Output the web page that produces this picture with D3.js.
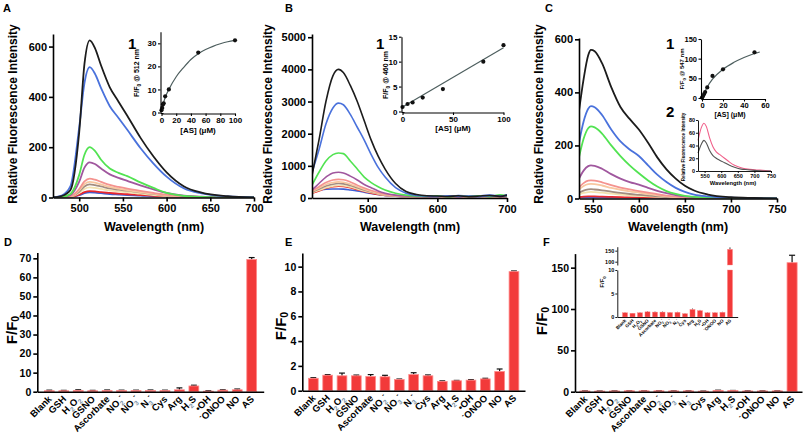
<!DOCTYPE html>
<html><head><meta charset="utf-8">
<script src="https://cdn.jsdelivr.net/npm/d3@7"></script>
<style>body{margin:0;background:#fff}svg{display:block}</style>
</head><body><svg id="c" width="803" height="433"></svg>
<script>
// ---------------- DATA ----------------
const seriesColors = ["#1c1c1c","#4a72dc","#52e352","#a0579e","#f4938f","#f8c7a0","#a38d80","#f3e2b0","#e8282d","#3d5fd6"];

// Panel A spectra (wavelength nm, intensity)
const A_wl     = [470,480,490,500,506,512,518,525,535,545,555,570,585,600,620,640,670,700];
const A_black  = [0,6,30,260,531,625,594,525,438,381,325,238,163,100,44,19,5,0];
const A_blue   = [0,8,45,280,455,518,492,435,363,316,269,197,135,83,36,16,4,0];
const A_green  = [0,2,14,90,170,200,185,150,115,98,85,60,38,18,6,2,0,0];
const A_purple = [0,1,10,63,119,140,133,115,92,78,66,48,32,18,7,3,1,0];
const A_salmon = [0,1,5,34,64,75,71,62,50,42,35,26,18,11,5,2,0,0];
const A_peach  = [0,1,4,28,53,62,59,52,42,35,29,21,15,9,4,2,0,0];
const A_gray   = [0,0,4,23,44,52,49,44,36,31,27,20,14,8,4,2,0,0];
const A_pale   = [0,0,3,18,34,40,38,34,28,24,21,15,10,6,3,1,0,0];
const A_red    = [0,0,2,11,21,25,24,21,18,15,13,10,7,4,2,1,0,0];
const A_blue2  = [0,0,1,9,17,20,19,17,14,12,10,8,5,3,1,1,0,0];

// Panel B spectra
const B_wl     = [420,430,440,450,458,465,475,485,495,505,515,525,540,555,570,585,600,615,630,645,660,675,690,700];
const B_black  = [700,1800,3000,3800,4000,3900,3500,3000,2400,1800,1300,900,450,200,110,70,60,45,70,40,60,80,50,90];
const B_blue   = [800,1500,2300,2800,2950,2900,2600,2200,1800,1350,950,650,320,150,80,60,40,70,50,60,40,70,60,80];
const B_green  = [400,800,1150,1350,1400,1380,1150,900,650,480,350,250,150,90,60,50,70,40,60,50,70,40,100,60];
const B_purple = [250,450,650,780,800,780,680,560,420,320,220,150,90,60,50,40,60,50,40,60,50,70,40,50];
const B_salmon = [220,350,480,560,580,570,500,400,310,230,170,120,80,55,45,50,40,55,45,40,55,45,50,40];
const B_peach  = [200,310,420,480,500,490,430,350,270,200,150,110,70,50,40,45,50,40,45,50,40,45,50,45];
const B_gray   = [180,280,370,430,450,440,390,320,250,190,140,100,65,45,40,40,45,40,45,40,45,40,45,40];
const B_pale   = [160,240,320,370,390,380,340,280,220,170,125,90,60,42,38,40,38,40,38,40,38,40,38,40];
const B_red    = [150,220,300,350,370,360,320,260,200,150,110,80,55,40,35,40,35,40,35,40,35,40,35,40];
const B_blue2  = [230,250,270,280,280,275,250,220,180,140,110,80,55,45,50,60,70,40,80,50,60,90,60,100];

// Panel C spectra
const C_wl     = [535,540,545,548,552,560,570,580,590,600,610,620,630,640,650,660,675,700,725,750];
const C_black  = [330,450,540,560,555,510,420,345,300,260,210,155,110,75,48,30,15,5,2,0];
const C_blue   = [210,290,338,348,344,315,260,215,185,160,125,90,62,40,25,15,8,3,1,0];
const C_green  = [155,225,265,272,268,245,200,160,125,95,68,45,28,17,10,6,3,1,0,0];
const C_purple = [75,105,122,125,123,112,92,75,62,52,40,29,20,13,8,5,2,1,0,0];
const C_salmon = [42,58,67,68,67,61,50,41,34,28,22,16,11,7,4,3,1,0,0,0];
const C_peach  = [34,47,54,55,54,49,40,33,27,22,17,12,8,5,3,2,1,0,0,0];
const C_gray   = [22,30,34,35,34,31,26,21,17,14,11,8,5,3,2,1,0,0,0,0];
const C_pale   = [15,21,24,25,24,22,18,15,12,10,8,6,4,2,1,1,0,0,0,0];
const C_red    = [5,7,8,8,8,7,6,5,4,3,2,2,1,1,0,0,0,0,0,0];
const C_blue2  = [2,3,3,3,3,3,2,2,2,1,1,1,0,0,0,0,0,0,0,0];

// Inset 1 data (concentration uM, F/F0) and fitted curves
const A_ins_conc = [0,1,2,3,5,10,50,100];
const A_ins_ratio = [1,2,3.5,4,7,10,26,31.3];
const A_fit_conc = [0,5,10,20,30,40,50,60,70,80,90,100];
const A_fit_ratio = [1,6.5,10,15.5,19.5,23,25.5,27.3,28.7,29.8,30.7,31.3];

const B_ins_conc = [0,5,10,20,40,80,100];
const B_ins_ratio = [0.9,1.5,1.8,2.8,4.5,10.0,13.3];
const B_fit_conc = [0,100];
const B_fit_ratio = [0.9,12.8];

const C_ins_conc = [0,1,2,3,5,10,20,50];
const C_ins_ratio = [1,5,10,15,27,56,73,116];
const C_fit_conc = [0,5,10,20,30,40,50,55];
const C_fit_ratio = [0,28,48,73,90,103,113,117];

// Inset C2 spectra
const C2_wl   = [530,540,548,555,565,575,585,595,610,625,640,660,680,700,725,750];
const C2_pink = [48,68,75,70,52,38,30,26,20,14,9,5,3,2,1,0];
const C2_gray = [28,42,48,44,32,24,20,17,13,9,6,3,2,1,0,0];

// Selectivity bars
const analytes = ["Blank","GSH","H_2O_2","GSNO","Ascorbate","NO_2^-","NO_3^-","N_3^-","Cys","Arg","H_2S","•OH","^-ONOO","NO","AS"];
const D_values = [0.5,0.5,0.7,0.5,0.6,0.6,0.6,0.6,0.6,1.0,3.0,0.3,0.8,1.0,69.4];
const D_err    = [0.3,0.2,0.3,0.2,0.3,0.2,0.2,0.3,0.2,1.0,0.4,0.2,0.2,0.4,1.0];
const E_values = [1.0,1.25,1.2,1.2,1.15,1.12,0.9,1.3,1.2,0.75,0.8,0.85,0.95,1.55,9.6];
const E_err    = [0.05,0.05,0.22,0.06,0.15,0.12,0.04,0.15,0.07,0.04,0.03,0.04,0.05,0.2,0.05];
const F_values = [0.9,0.8,0.9,1.1,1.05,1.05,0.95,1.0,0.7,1.6,1.35,0.9,0.9,1.0,156];
const F_err    = [0.1,0.05,0.1,0.1,0.1,0.1,0.1,0.1,0.1,0.2,0.15,0.1,0.1,0.1,9];

// ---------------- DRAWING ----------------
const FONT = "'Liberation Sans', Arial, Helvetica, sans-serif";
const svg = d3.select('#c');
svg.append('rect').attr('width',803).attr('height',433).attr('fill','#fff');

function txt(x,y,s,fs,opt={}) {
  const t = svg.append('text').attr('x',x).attr('y',y)
    .attr('font-family',FONT).attr('font-weight','bold').attr('font-size',fs)
    .attr('text-anchor',opt.anchor||'middle').attr('fill',opt.fill||'#000');
  if (opt.rotate) t.attr('transform',`rotate(${opt.rotate},${x},${y})`);
  rich(t,s,fs,opt.subColor,opt.subShift);
  return t;
}
function rich(t,s,fs,subColor,subShift) {
  const parts=[];
  for (let i=0;i<s.length;i++){
    const ch=s[i];
    if ((ch==='_'||ch==='^') && i+1<s.length){ parts.push({t:s[i+1],type:ch==='_'?'sub':'sup'}); i++; }
    else { if(parts.length && parts[parts.length-1].type==='n') parts[parts.length-1].t+=ch; else parts.push({t:ch,type:'n'}); }
  }
  let shift=0;
  const sub = subShift==null?0.3:subShift;
  parts.forEach(p=>{
    const target = p.type==='sub'? fs*sub : p.type==='sup'? -fs*0.45 : 0;
    const ts=t.append('tspan').attr('dy',target-shift).text(p.t);
    if(p.type!=='n'){ ts.attr('font-size',fs*0.7); if(p.type==='sub'&&subColor) ts.attr('fill',subColor); }
    shift=target;
  });
}
function styleAxis(g,fs,sw){
  g.selectAll('path.domain').attr('stroke','#000').attr('stroke-width',sw);
  g.selectAll('.tick line').attr('stroke','#000').attr('stroke-width',sw);
  g.selectAll('.tick text').attr('font-family',FONT).attr('font-weight','bold').attr('font-size',fs).attr('fill','#000');
}

let clipN=0;
function spectrumPanel(o){
  const x=d3.scaleLinear().domain(o.xd).range(o.xr);
  const y=d3.scaleLinear().domain(o.yd).range(o.yr);
  const id='clip'+(clipN++);
  svg.append('clipPath').attr('id',id).append('rect')
    .attr('x',o.xr[0]).attr('y',o.yr[1]-2).attr('width',o.xr[1]-o.xr[0]).attr('height',o.yr[0]-o.yr[1]+2);
  const g=svg.append('g').attr('clip-path',`url(#${id})`);
  const line=d3.line().x((d,i)=>x(o.wl[i])).y(d=>y(d)).curve(d3.curveMonotoneX);
  for(let k=o.series.length-1;k>=0;k--){
    g.append('path').attr('d',line(o.series[k])).attr('fill','none')
      .attr('stroke',o.colors[k]).attr('stroke-width',o.lw||1.8).attr('stroke-linejoin','round');
  }
  const ga=svg.append('g').attr('transform',`translate(${o.xr[0]},0)`)
    .call(d3.axisLeft(y).tickValues(o.yt).tickSize(o.ts||4).tickSizeOuter(0).tickPadding(2).tickFormat(d3.format('d')));
  styleAxis(ga,o.fs||11,o.sw||1.6);
  const gb=svg.append('g').attr('transform',`translate(0,${o.yr[0]})`)
    .call(d3.axisBottom(x).tickValues(o.xt).tickSize(o.ts||4).tickSizeOuter(0).tickPadding(o.tp||3).tickFormat(d3.format('d')));
  styleAxis(gb,o.fs||11,o.sw||1.6);
  return {x,y};
}

function insetScatter(o){
  const x=d3.scaleLinear().domain(o.xd).range(o.xr);
  const y=d3.scaleLinear().domain(o.yd).range(o.yr);
  const line=d3.line().x((d,i)=>x(o.fx[i])).y(d=>y(d)).curve(d3.curveMonotoneX);
  svg.append('path').attr('d',line(o.fy)).attr('fill','none').attr('stroke','#4d5e5e').attr('stroke-width',1.2);
  o.px.forEach((c,i)=>svg.append('circle').attr('cx',x(c)).attr('cy',y(o.py[i])).attr('r',2.1).attr('fill','#111'));
  const ga=svg.append('g').attr('transform',`translate(${o.xr[0]-1},0)`)
    .call(d3.axisLeft(y).tickValues(o.yt).tickSize(2.5).tickSizeOuter(0).tickPadding(1.5));
  styleAxis(ga,o.fs,1.1);
  const gb=svg.append('g').attr('transform',`translate(0,${o.yr[0]+1})`)
    .call(d3.axisBottom(x).tickValues(o.xt).tickSize(2.5).tickSizeOuter(0).tickPadding(1.5));
  styleAxis(gb,o.fs,1.1);
  svg.append('line').attr('x1',o.xr[0]-1).attr('x2',o.xr[0]+2).attr('y1',o.yr[0]+1).attr('y2',o.yr[0]+1).attr('stroke','#000').attr('stroke-width',1.1);
}

// ---- Panel A ----
spectrumPanel({xd:[470,700],xr:[53,254],yd:[0,650],yr:[197.5,34],wl:A_wl,
  series:[A_black,A_blue,A_green,A_purple,A_salmon,A_peach,A_gray,A_pale,A_red,A_blue2],colors:seriesColors,
  yt:[0,200,400,600],xt:[500,550,600,650,700]});
// ---- Panel B ----
spectrumPanel({xd:[420,700],xr:[312,507],yd:[0,5100],yr:[198,34],wl:B_wl,
  series:[B_black,B_blue,B_green,B_purple,B_salmon,B_peach,B_gray,B_pale,B_red,B_blue2],colors:seriesColors,
  yt:[0,1000,2000,3000,4000,5000],xt:[500,600,700],lw:1.6});
// ---- Panel C ----
spectrumPanel({xd:[535,750],xr:[579,777],yd:[0,605],yr:[198.5,38],wl:C_wl,
  series:[C_black,C_blue,C_green,C_purple,C_salmon,C_peach,C_gray,C_pale,C_red,C_blue2],colors:seriesColors,
  yt:[0,200,400,600],xt:[550,600,650,700,750]});

// titles for spectra
[13,268,539].forEach(x=>txt(x+4,114,'Relative Fluorescence Intensity',12,{rotate:-90}));
[154,410,678].forEach(cx=>txt(cx,231,'Wavelength (nm)',12.5));
txt(3,12,'A',11,{anchor:'start'});
txt(285,12,'B',11,{anchor:'start'});
txt(545,12,'C',11,{anchor:'start'});

// ---- Insets ----
insetScatter({xd:[0,100],xr:[161.5,235],yd:[0,35],yr:[112.5,31.8],fx:A_fit_conc,fy:A_fit_ratio,px:A_ins_conc,py:A_ins_ratio,
  yt:[0,10,20,30],xt:[0,20,40,60,80,100],fs:8});
txt(128,49,'1',15,{anchor:'start'});
txt(139,73,'F/F_0 @ 512 nm',7,{rotate:-90});
txt(198,133,'[AS] (μM)',8);

insetScatter({xd:[0,100],xr:[402.5,503.5],yd:[0,15],yr:[111.5,36.7],fx:B_fit_conc,fy:B_fit_ratio,px:B_ins_conc,py:B_ins_ratio,
  yt:[0,5,10,15],xt:[0,50,100],fs:8});
txt(376,49,'1',15,{anchor:'start'});
txt(388,75,'F/F_0 @ 460 nm',7,{rotate:-90});
txt(453,131,'[AS] (μM)',8);

insetScatter({xd:[0,60],xr:[702,765],yd:[0,150],yr:[98,39],fx:C_fit_conc,fy:C_fit_ratio,px:C_ins_conc,py:C_ins_ratio,
  yt:[0,50,100,150],xt:[0,20,40,60],fs:7.5});
txt(666,49,'1',15,{anchor:'start'});
txt(684,69,'F/F_0 @ 547 nm',6,{rotate:-90});
txt(730,117,'[AS] (μM)',7);

// inset C2
(function(){
  const x=d3.scaleLinear().domain([530,750]).range([698,771]);
  const y=d3.scaleLinear().domain([0,80]).range([171,120]);
  const line=d3.line().x((d,i)=>x(C2_wl[i])).y(d=>y(d)).curve(d3.curveMonotoneX);
  svg.append('path').attr('d',line(C2_pink)).attr('fill','none').attr('stroke','#f0608a').attr('stroke-width',1.1);
  svg.append('path').attr('d',line(C2_gray)).attr('fill','none').attr('stroke','#555').attr('stroke-width',1.1);
  const ga=svg.append('g').attr('transform','translate(698,0)').call(d3.axisLeft(y).tickValues([0,20,40,60,80]).tickSize(2).tickSizeOuter(0).tickPadding(1));
  styleAxis(ga,5.5,0.9);
  const gb=svg.append('g').attr('transform','translate(0,171)').call(d3.axisBottom(x).tickValues([550,600,650,700,750]).tickSize(2).tickSizeOuter(0).tickPadding(1));
  styleAxis(gb,5.5,0.9);
  txt(666,117,'2',15,{anchor:'start'});
  txt(685,147,'Relative Fluorescence Intensity',4.6,{rotate:-90});
  txt(733,185,'Wavelength (nm)',5.8);
})();

// ---- Bar panels ----
function barPanel(o){
  const x=d3.scalePoint().domain(d3.range(analytes.length)).range(o.xr).padding(o.pad);
  const y=d3.scaleLinear().domain(o.yd).range(o.yr);
  const bw=x.step()*0.68;
  o.values.forEach((v,i)=>{
    const e=o.err[i];
    svg.append('line').attr('x1',x(i)).attr('x2',x(i)).attr('y1',y(v)).attr('y2',y(v+e)).attr('stroke','#111').attr('stroke-width',1.2);
    svg.append('line').attr('x1',x(i)-bw*0.3).attr('x2',x(i)+bw*0.3).attr('y1',y(v+e)).attr('y2',y(v+e)).attr('stroke','#111').attr('stroke-width',1.2);
    svg.append('rect').attr('x',x(i)-bw/2).attr('y',y(v)).attr('width',bw).attr('height',y(0)-y(v))
      .attr('fill','#f23a3a').attr('stroke','#ff8a8a').attr('stroke-width',0.8);
  });
  const ga=svg.append('g').attr('transform',`translate(${o.xr[0]},0)`)
    .call(d3.axisLeft(y).tickValues(o.yt).tickSize(4).tickSizeOuter(0).tickPadding(2));
  styleAxis(ga,10.5,1.6);
  const gb=svg.append('g').attr('transform',`translate(0,${o.yr[0]})`)
    .call(d3.axisBottom(x).tickSize(0).tickSizeOuter(0).tickFormat(''));
  styleAxis(gb,10,1.6);
  analytes.forEach((s,i)=>{
    const px=x(i)+3, py=o.yr[0]+8;
    txt(px,py,s,9.5,{anchor:'end',rotate:-45,subColor:'#7d95a8'});
  });
  return {x,y};
}
barPanel({xr:[37.3,263.7],pad:0.83,yd:[0,73],yr:[391.7,252.6],values:D_values,err:D_err,yt:[0,10,20,30,40,50,60,70]});
barPanel({xr:[302.3,525],pad:0.77,yd:[0,11.1],yr:[390.7,253],values:E_values,err:E_err,yt:[0,2,4,6,8,10]});
barPanel({xr:[575,802],pad:0.67,yd:[0,167],yr:[391.7,253.6],values:F_values,err:F_err,yt:[0,50,100,150]});
txt(4,246,'D',11,{anchor:'start'});
txt(285,246,'E',11,{anchor:'start'});
txt(543,246,'F',11,{anchor:'start'});
txt(17,330,'F/F_0',15,{rotate:-90,subShift:0.15});
txt(286,326,'F/F_0',15,{rotate:-90,subShift:0.15});
txt(547,321,'F/F_0',15,{rotate:-90,subShift:0.15});

// ---- F inset with broken axis ----
(function(){
  const x=d3.scalePoint().domain(d3.range(analytes.length)).range([617.3,737.7]).padding(1.03);
  const yL=d3.scaleLinear().domain([0,10]).range([317,270]);
  const yU=d3.scaleLinear().domain([85,168]).range([265,246.7]);
  const bw=x.step()*0.68;
  F_values.forEach((v,i)=>{
    const e=F_err[i];
    if(v<=10){
      svg.append('line').attr('x1',x(i)).attr('x2',x(i)).attr('y1',yL(v)).attr('y2',yL(v+e)).attr('stroke','#111').attr('stroke-width',0.8);
      svg.append('rect').attr('x',x(i)-bw/2).attr('y',yL(v)).attr('width',bw).attr('height',yL(0)-yL(v)).attr('fill','#f23a3a').attr('stroke','#ff8a8a').attr('stroke-width',0.4);
    } else {
      svg.append('rect').attr('x',x(i)-bw/2).attr('y',yL(10)).attr('width',bw).attr('height',yL(0)-yL(10)).attr('fill','#f23a3a').attr('stroke','#ff8a8a').attr('stroke-width',0.4);
      svg.append('line').attr('x1',x(i)).attr('x2',x(i)).attr('y1',yU(v)).attr('y2',yU(v+e)).attr('stroke','#111').attr('stroke-width',0.8);
      svg.append('rect').attr('x',x(i)-bw/2).attr('y',yU(v)).attr('width',bw).attr('height',yU(85)-yU(v)).attr('fill','#f23a3a').attr('stroke','#ff8a8a').attr('stroke-width',0.4);
    }
  });
  const g1=svg.append('g').attr('transform','translate(617.3,0)').call(d3.axisLeft(yL).tickValues([0,5,10]).tickSize(2).tickSizeOuter(0).tickPadding(1));
  styleAxis(g1,5.5,0.9);
  const g2=svg.append('g').attr('transform','translate(617.3,0)').call(d3.axisLeft(yU).tickValues([100,150]).tickSize(2).tickSizeOuter(0).tickPadding(1));
  styleAxis(g2,5.5,0.9);
  const gb=svg.append('g').attr('transform','translate(0,317)').call(d3.axisBottom(x).tickSize(0).tickSizeOuter(0).tickFormat(''));
  styleAxis(gb,5,0.9);
  analytes.forEach((s,i)=>txt(x(i)+1.5,321,s,4.6,{anchor:'end',rotate:-45}));
  txt(604,282,'F/F_0',6,{rotate:-90});
})();
</script></body></html>
